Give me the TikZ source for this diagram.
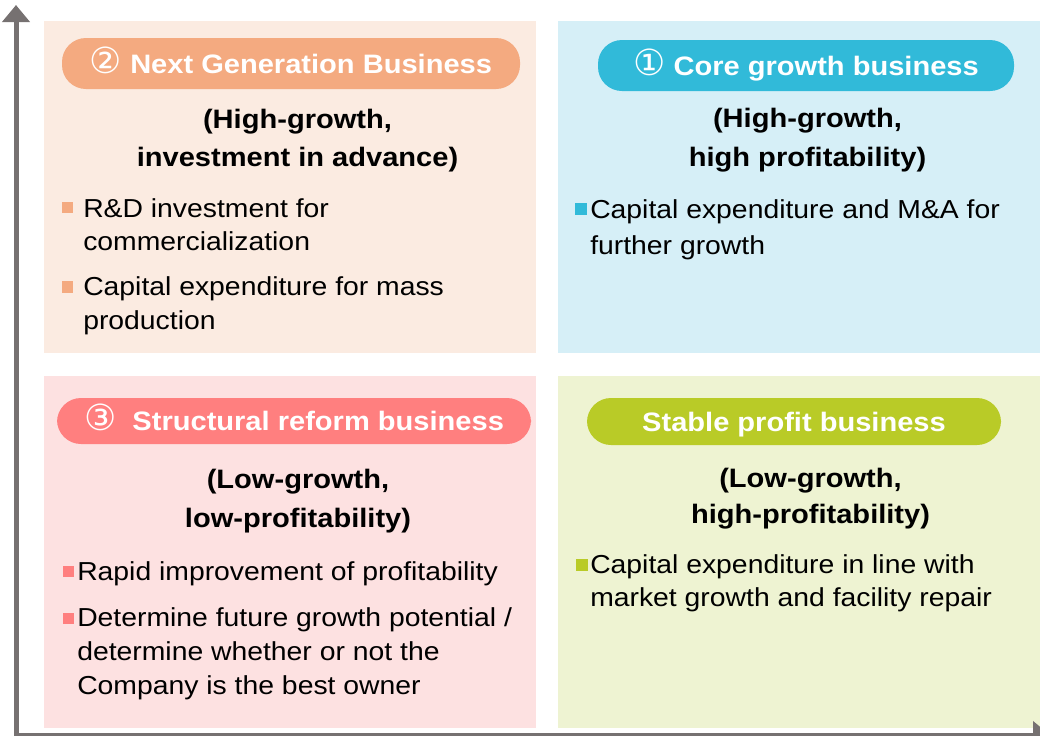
\documentclass[tikz,border=0pt]{standalone}
\usepackage{fontspec}
\setmainfont{Liberation Sans}[FakeStretch=1.09]
\newfontfamily\circfont{DejaVu Sans}
\usepackage{xcolor}
\usetikzlibrary{arrows.meta}

\definecolor{axisgray}{HTML}{767171}
\definecolor{nextbg}{HTML}{FBEBE1}
\definecolor{corebg}{HTML}{D6EFF7}
\definecolor{reformbg}{HTML}{FDE1E1}
\definecolor{stablebg}{HTML}{EEF3D2}
\definecolor{nextcol}{HTML}{F4AA80}
\definecolor{corecol}{HTML}{31BAD9}
\definecolor{reformcol}{HTML}{FF7F7F}
\definecolor{stablecol}{HTML}{B9CB27}

\newcommand{\circnum}[1]{{\circfont\mdseries\fontsize{27pt}{27pt}\selectfont #1}}

\begin{document}
\begin{tikzpicture}[x=0.75pt,y=0.75pt,yscale=-1,xscale=1,
    axis/.style={draw=axisgray,line width=3.75pt,{Triangle[length=12.75pt,width=20.25pt]}-{Triangle[length=12.75pt,width=20.25pt]}},
    pill/.style={rectangle,rounded corners=18pt,inner sep=0pt,text=white,text height=14.5pt,text depth=0pt,
        font=\bfseries\fontsize{20pt}{24pt}\selectfont},
    subtitle/.style={anchor=base,align=center,inner sep=0pt,font=\bfseries\fontsize{20pt}{28.8pt}\selectfont},
    item/.style={anchor=base west,align=left,inner sep=0pt,font=\fontsize{19.5pt}{25.2pt}\selectfont},
    sqbullet/.style={rectangle,minimum size=8.5pt,inner sep=0pt}]
    \useasboundingbox (0,0) rectangle (1040,736);
    \clip (0,0) rectangle (1040,736);

    % quadrants
    \fill [nextbg] (44,21) rectangle (536,353);
    \fill [corebg] (558,21) rectangle (1045,353);
    \fill [reformbg] (44,376) rectangle (536,728);
    \fill [stablebg] (558,376) rectangle (1045,728);

    % axes
    \coordinate (ytip) at (16,5);
    \coordinate (origin) at (16,735);
    \coordinate (xtip) at (1050,735);
    \draw [axis] (ytip) -- (origin) -- (xtip);

    % upper left (base = last line)
    \node [pill,fill=nextcol,minimum width=343.5pt,minimum height=38.25pt] (nextpill) at (291,63.5) {\circnum{②} Next Generation Business};
    \node [subtitle] (nexthead) at (297.5,166.5) {(High-growth,\\investment in advance)};
    \node [sqbullet,fill=nextcol] (nextsq1) at (67.5,207.5) {};
    \node [item] (nextitem1) at (83,250.6) {R\&D investment for\\commercialization};
    \node [sqbullet,fill=nextcol] (nextsq2) at (67.5,287) {};
    \node [item] (nextitem2) at (83,329) {Capital expenditure for mass\\production};

    % upper right
    \node [pill,fill=corecol,minimum width=312pt,minimum height=38.25pt] (corepill) at (806,65.5) {\circnum{①} Core growth business};
    \node [subtitle] (corehead) at (807.5,166) {(High-growth,\\high profitability)};
    \node [sqbullet,fill=corecol] (coresq1) at (581,209) {};
    \node [item,font=\fontsize{19.5pt}{27pt}\selectfont] (coreitem1) at (590,254) {Capital expenditure and M\&A for\\further growth};

    % lower left
    \node [pill,fill=reformcol,minimum width=355.5pt,minimum height=34.5pt] (reformpill) at (294,421) {\circnum{③}\ \ Structural reform business};
    \node [subtitle] (reformhead) at (298,527) {(Low-growth,\\low-profitability)};
    \node [sqbullet,fill=reformcol] (reformsq1) at (68.5,571.5) {};
    \node [item] (reformitem1) at (77,580) {Rapid improvement of profitability};
    \node [sqbullet,fill=reformcol] (reformsq2) at (68.5,618.5) {};
    \node [item] (reformitem2) at (77,694) {Determine future growth potential /\\determine whether or not the\\Company is the best owner};

    % lower right
    \node [pill,fill=stablecol,minimum width=310.5pt,minimum height=35.25pt] (stablepill) at (794,421.5) {Stable profit business};
    \node [subtitle,font=\bfseries\fontsize{20pt}{26.3pt}\selectfont] (stablehead) at (810.5,523) {(Low-growth,\\high-profitability)};
    \node [sqbullet,fill=stablecol] (stablesq1) at (582,565) {};
    \node [item] (stableitem1) at (590,606.6) {Capital expenditure in line with\\market growth and facility repair};
\end{tikzpicture}
\end{document}
